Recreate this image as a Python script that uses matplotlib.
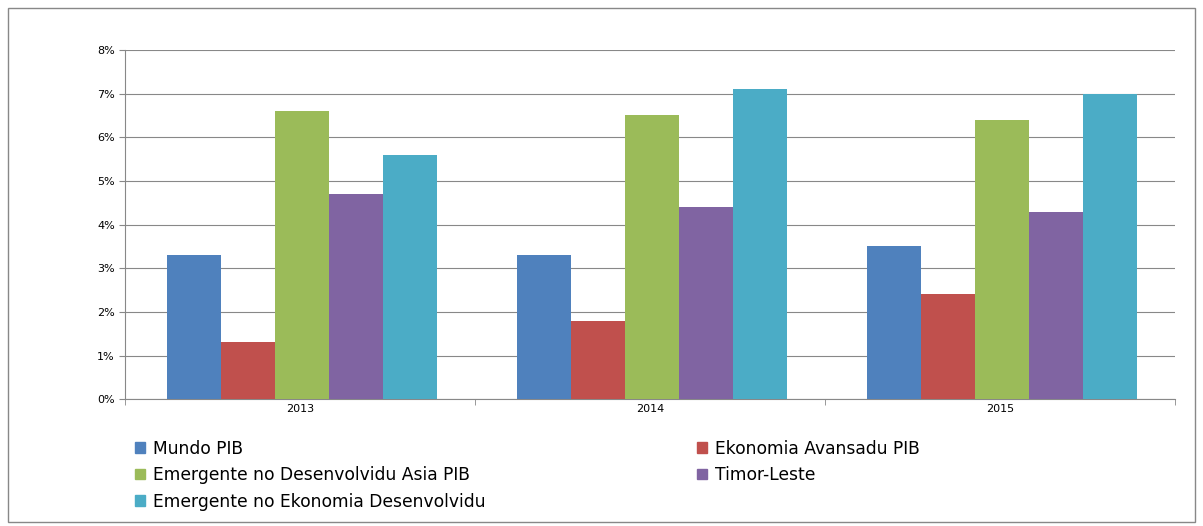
import matplotlib
matplotlib.use("Agg")
import matplotlib.pyplot as plt
import numpy as np
from matplotlib.patches import Patch, Rectangle

years = ["2013", "2014", "2015"]
series = ["Mundo PIB", "Ekonomia Avansadu PIB", "Emergente no Desenvolvidu Asia PIB",
          "Timor-Leste", "Emergente no Ekonomia Desenvolvidu"]
mundo = [3.3, 3.3, 3.5]
avansadu = [1.3, 1.8, 2.4]
asia = [6.6, 6.5, 6.4]
timor = [4.7, 4.4, 4.3]
emergente = [5.6, 7.1, 7.0]
values = [mundo, avansadu, asia, timor, emergente]
colors = ["#4F81BD", "#C0504D", "#9BBB59", "#8064A2", "#4BACC6"]

plt.rcParams['font.family'] = ['DejaVu Sans']
fig = plt.figure(figsize=(12.03, 5.26), dpi=100)
fig.patches.append(Rectangle((8/1203, 4/526), 1187/1203, 514/526, transform=fig.transFigure,
                             fill=False, edgecolor="#888888", linewidth=1))
ax = fig.add_axes([0.104, 0.241, 0.873, 0.664])
x = np.arange(len(years))
w = 0.154
for i, (v, c) in enumerate(zip(values, colors)):
    ax.bar(x + (i - 2) * w + 0.005, v, w, color=c, label=series[i], zorder=3)
ax.set_xlim(-0.5, 2.5)
ax.set_ylim(0, 8)
ax.set_yticks(range(0, 9))
ax.set_yticklabels([f"{i}%" for i in range(9)], fontsize=8)
ax.set_xticks(x)
ax.set_xticklabels(years, fontsize=8)
ax.set_xticks([-0.5, 0.5, 1.5, 2.5], minor=True)
ax.tick_params(axis='x', which='major', length=0)
ax.tick_params(axis='x', which='minor', length=4, color="#888888")
ax.tick_params(axis='y', length=4, color="#888888")
ax.grid(axis='y', color="#888888", linewidth=0.8, zorder=0)
for s in ["top", "right"]:
    ax.spines[s].set_visible(False)
ax.spines["left"].set_color("#888888")
ax.spines["bottom"].set_color("#888888")

h = [Patch(color=c) for c in colors]
kw = dict(loc="upper left", frameon=False, fontsize=12.3, handlelength=0.6,
          handleheight=0.6, labelspacing=0.5, handletextpad=0.5, borderpad=0)
fig.legend([h[0], h[2], h[4]], [series[0], series[2], series[4]],
           bbox_to_anchor=(126/1203, 1 - 431/526), **kw)
fig.legend([h[1], h[3]], [series[1], series[3]],
           bbox_to_anchor=(688/1203, 1 - 431/526), **kw)
fig.savefig("out.png", dpi=100)
